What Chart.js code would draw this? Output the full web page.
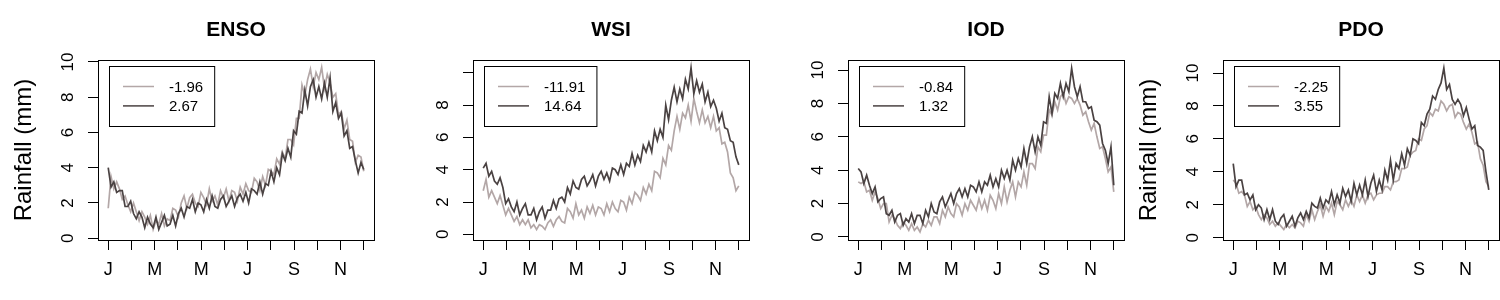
<!DOCTYPE html>
<html>
<head>
<meta charset="utf-8">
<title>Rainfall by climate index</title>
<script src="https://cdn.jsdelivr.net/npm/chart.js@4.4.1/dist/chart.umd.min.js"></script>
<style>
  body { margin: 0; background: #fff; }
  .panel { position: absolute; top: 0; width: 375px; height: 300px; }
</style>
</head>
<body>
<div class="panel" style="left:0px"><canvas id="enso-chart" width="375" height="300"></canvas></div>
<div class="panel" style="left:375px"><canvas id="wsi-chart" width="375" height="300"></canvas></div>
<div class="panel" style="left:750px"><canvas id="iod-chart" width="375" height="300"></canvas></div>
<div class="panel" style="left:1125px"><canvas id="pdo-chart" width="375" height="300"></canvas></div>
<script>
// ====
// Data
// ====

//  One value every 4 days, 1 Jan (day 1) to 31 Dec (day 365)
const dayStep = 4;

//  Axis ticks
//  ----------
const monthTickDays = [1, 34.09, 67.18, 100.27, 133.36, 166.45, 199.55, 232.64, 265.73, 298.82, 331.91, 365];
const monthTickLabels = ['J', '', 'M', '', 'M', '', 'J', '', 'S', '', 'N', ''];
const yTickValues = [0, 2, 4, 6, 8, 10];
const yTickLabels = [
  ['0', '2', '4', '6', '8', '10'],
  ['0', '2', '4', '6', '8', ''],
  ['0', '2', '4', '6', '8', '10'],
  ['0', '2', '4', '6', '8', '10'],
];
const yLimits = [[-0.1, 10.11], [-0.35, 10.79], [-0.18, 10.6], [-0.14, 10.79]];

//  Panels
//  ------
const panelTitles = ['ENSO', 'WSI', 'IOD', 'PDO'];
const legendLabels = [['-1.96', '2.67'], ['-11.91', '14.64'], ['-0.84', '1.32'], ['-2.25', '3.55']];
const showRainfallTitle = [true, false, false, true];

//  Rainfall (mm), low and high phase of each index
//  -----------------------------------------------
const ensoLow = [
  1.7, 3.5, 2.8, 3.2, 2.8, 2.2, 2.4, 1.9, 1.5, 2.0,
  1.5, 1.0, 1.5, 1.2, 0.8, 1.3, 0.5, 1.0, 0.8, 1.4,
  0.7, 1.1, 1.0, 1.7, 1.6, 1.2, 2.0, 2.4, 1.7, 2.3,
  2.5, 2.0, 1.8, 2.6, 2.3, 1.9, 2.8, 2.1, 2.4, 1.9,
  2.7, 2.3, 2.8, 2.1, 2.7, 2.6, 2.1, 2.9, 2.5, 3.1,
  2.7, 2.6, 3.4, 3.2, 2.7, 3.5, 3.0, 3.9, 3.8, 3.6,
  4.5, 4.2, 4.9, 4.5, 5.6, 5.6, 5.3, 6.8, 6.8, 8.7,
  8.1, 9.0, 9.6, 8.6, 9.4, 9.0, 9.7, 8.5, 9.3, 8.8,
  8.0, 8.2, 7.0, 7.2, 6.2, 6.7, 5.6, 5.5, 4.3, 4.7,
  4.6, 3.8,
];
const ensoHigh = [
  4.0, 2.9, 3.2, 2.6, 2.7, 2.7, 1.8, 1.8, 2.1, 1.4,
  1.1, 1.5, 1.2, 0.6, 1.2, 0.8, 0.6, 1.2, 0.5, 0.9,
  1.3, 0.7, 0.8, 1.3, 0.7, 1.4, 1.7, 1.2, 1.8, 1.7,
  2.2, 1.5, 2.0, 1.9, 1.5, 2.2, 1.7, 2.4, 1.8, 1.7,
  2.2, 2.4, 1.8, 2.1, 2.4, 1.8, 2.3, 2.5, 2.1, 2.6,
  2.0, 2.8, 2.7, 2.5, 3.2, 2.5, 3.1, 3.0, 3.8, 3.2,
  4.0, 3.6, 4.8, 4.4, 5.1, 4.6, 6.1, 5.9, 7.2, 7.1,
  8.4, 7.5, 8.6, 9.0, 8.0, 8.6, 7.9, 8.8, 8.0, 9.1,
  7.2, 7.7, 6.8, 7.1, 5.8, 6.1, 5.1, 5.2, 4.4, 3.7,
  4.3, 3.9,
];
const wsiLow = [
  2.7, 3.4, 2.3, 2.7, 2.3, 1.9, 2.4, 1.8, 1.2, 1.6,
  1.2, 0.8, 1.1, 0.6, 0.9, 0.6, 0.9, 0.4, 0.6, 0.3,
  0.6, 0.5, 0.3, 0.7, 0.9, 0.5, 0.9, 1.1, 0.8, 0.7,
  1.6, 1.4, 1.0, 1.9, 1.2, 1.5, 1.0, 1.7, 1.3, 1.8,
  1.2, 1.7, 1.6, 1.2, 1.9, 1.4, 2.0, 1.6, 1.4, 2.1,
  2.0, 1.5, 2.3, 1.9, 2.6, 2.4, 2.1, 2.9, 2.5, 3.1,
  2.7, 3.9, 3.8, 3.5, 4.7, 4.3, 5.5, 5.2, 6.4, 7.3,
  6.5, 7.5, 7.2, 8.0, 7.0, 8.4, 7.6, 6.9, 7.7, 6.9,
  7.3, 6.6, 7.3, 6.4, 6.6, 5.6, 5.7, 5.1, 3.8, 3.5,
  2.7, 3.0,
];
const wsiHigh = [
  4.1, 4.4, 3.6, 3.9, 3.3, 3.1, 3.5, 2.9, 1.9, 2.2,
  1.7, 1.4, 2.0, 1.2, 1.6, 1.9, 1.2, 1.2, 1.6, 0.9,
  1.4, 1.7, 1.0, 1.5, 1.5, 2.1, 1.6, 2.2, 2.3, 2.0,
  2.9, 2.5, 3.3, 2.9, 2.8, 3.4, 3.6, 3.0, 3.3, 3.7,
  3.0, 3.6, 3.9, 3.4, 3.8, 3.3, 4.1, 4.0, 3.7, 4.3,
  3.7, 4.4, 4.2, 5.0, 4.3, 4.9, 4.5, 5.5, 5.1, 5.7,
  5.1, 6.4, 5.8, 6.5, 6.0, 8.0, 7.1, 8.3, 9.1, 8.2,
  9.0, 8.4, 9.6, 9.0, 10.3, 8.7, 9.5, 8.8, 9.3, 8.2,
  8.8, 7.9, 8.3, 7.8, 7.0, 7.5, 6.6, 6.5, 5.8, 5.7,
  4.8, 4.3,
];
const iodLow = [
  3.3, 3.2, 3.3, 2.7, 2.8, 2.2, 2.7, 2.3, 1.7, 2.0,
  2.0, 0.9, 1.3, 1.1, 0.7, 0.5, 0.9, 0.7, 0.4, 0.8,
  0.4, 0.6, 0.3, 0.8, 0.6, 1.0, 0.7, 1.2, 1.2, 0.8,
  1.6, 1.2, 1.8, 1.4, 1.2, 2.0, 1.8, 1.3, 2.0, 1.6,
  2.2, 1.9, 1.6, 2.3, 1.7, 2.2, 1.6, 2.5, 2.2, 1.7,
  2.6, 2.0, 3.0, 2.1, 2.8, 3.3, 2.4, 3.3, 3.0, 3.9,
  3.1, 4.4, 4.4, 4.1, 5.4, 5.1, 6.1, 6.1, 7.6, 7.3,
  8.1, 7.6, 8.4, 8.6, 8.0, 8.4, 8.3, 8.0, 8.3, 7.9,
  7.3, 7.5, 6.9, 6.4, 6.8, 6.0, 5.3, 5.4, 4.7, 3.9,
  4.2, 2.7,
];
const iodHigh = [
  4.1, 3.9, 3.2, 3.7, 3.1, 2.6, 3.0, 2.1, 2.3, 2.4,
  1.4, 1.3, 1.6, 0.9, 1.3, 1.4, 0.7, 1.1, 0.9, 1.4,
  0.8, 1.3, 1.3, 0.8, 1.6, 1.2, 2.0, 1.5, 1.4, 2.1,
  2.4, 1.8, 2.2, 2.6, 2.0, 2.6, 2.9, 2.4, 2.9, 2.4,
  3.1, 3.0, 2.7, 3.3, 2.7, 3.3, 3.1, 3.7, 3.0, 3.5,
  3.0, 4.0, 3.5, 4.0, 3.4, 4.6, 4.0, 4.7, 4.2, 5.3,
  4.4, 5.4, 6.0, 5.1, 6.0, 5.5, 6.9, 6.8, 8.4, 7.4,
  8.6, 8.3, 9.2, 8.4, 9.2, 8.7, 10.1, 9.0, 8.4, 9.0,
  8.1, 8.1, 7.7, 7.8, 7.0, 6.9, 6.7, 5.6, 5.2, 4.4,
  5.4, 3.1,
];
const pdoLow = [
  3.5, 3.3, 2.7, 2.8, 2.6, 1.9, 2.2, 1.7, 1.9, 1.4,
  1.1, 1.4, 1.2, 0.8, 1.0, 0.7, 0.9, 0.7, 0.5, 0.8,
  0.6, 0.8, 0.6, 1.0, 0.9, 0.7, 1.4, 1.0, 1.7, 1.1,
  1.6, 2.0, 1.3, 1.9, 1.6, 2.1, 1.4, 2.2, 2.0, 1.7,
  2.3, 1.9, 2.3, 1.9, 2.6, 2.2, 2.6, 2.1, 2.6, 2.7,
  2.3, 2.6, 2.7, 2.7, 3.1, 3.1, 2.9, 3.4, 3.4, 3.5,
  4.2, 4.2, 4.3, 5.0, 5.2, 5.3, 6.0, 5.9, 6.6, 6.8,
  7.6, 7.4, 7.8, 7.7, 8.3, 8.1, 7.7, 8.0, 8.1, 7.3,
  7.6, 7.5, 7.0, 6.6, 6.9, 6.4, 5.7, 5.8, 4.8, 4.4,
  3.4, 3.1,
];
const pdoHigh = [
  4.5, 3.1, 3.5, 3.5, 2.6, 2.7, 2.3, 2.6, 1.7, 2.0,
  1.8, 1.1, 1.7, 1.1, 1.7, 1.0, 0.8, 1.2, 1.4, 0.7,
  1.0, 1.3, 0.7, 1.2, 1.5, 1.1, 1.6, 1.2, 2.1, 1.9,
  1.8, 2.4, 1.8, 2.3, 2.1, 2.8, 2.0, 2.6, 2.1, 3.0,
  2.5, 2.9, 2.2, 3.3, 2.6, 3.2, 2.6, 3.5, 2.5, 3.3,
  3.8, 2.8, 3.5, 2.9, 4.1, 3.5, 4.7, 3.5, 4.5, 4.2,
  5.1, 4.4, 5.4, 5.0, 6.0, 5.9, 5.7, 7.0, 6.8, 7.5,
  7.8, 8.6, 8.4, 9.0, 9.4, 10.3, 9.0, 9.3, 8.4, 8.1,
  8.4, 8.1, 7.4, 7.9, 7.2, 6.6, 6.8, 5.6, 5.5, 5.3,
  4.0, 2.9,
];

const lowColor = '#b3a7a7';
const highColor = '#4a4242';


// =======
// Plugins
// =======

//  Frame round the plot region
//  ---------------------------
const plotBox = {
  id: 'plotBox',
  afterDraw(chart) {
    const {ctx, chartArea: a} = chart;
    ctx.save();
    ctx.strokeStyle = '#000';
    ctx.lineWidth = 1;
    ctx.strokeRect(a.left + 0.5, a.top + 0.5, a.right - a.left, a.bottom - a.top);
    ctx.restore();
  },
};

//  Legend with a box round it, top left of the plot
//  ------------------------------------------------
const boxedLegend = {
  id: 'boxedLegend',
  afterDraw(chart) {
    const {ctx, chartArea: a} = chart;
    const sets = chart.data.datasets;
    const left = a.left + 11;
    const top = a.top + 6;

    ctx.save();
    ctx.font = '15px "Liberation Sans", Arial, sans-serif';
    const textW = Math.max(...sets.map(d => ctx.measureText(d.label).width));
    ctx.strokeStyle = '#000';
    ctx.lineWidth = 1;
    ctx.strokeRect(left + 0.5, top + 0.5, 60 + textW + 11, 60);

    sets.forEach((d, i) => {
      const y = top + 20.5 + i * 19.4;
      ctx.strokeStyle = d.borderColor;
      ctx.lineWidth = 1.5;
      ctx.beginPath();
      ctx.moveTo(left + 14, y);
      ctx.lineTo(left + 45, y);
      ctx.stroke();
      ctx.fillStyle = '#000';
      ctx.textBaseline = 'middle';
      ctx.fillText(d.label, left + 60, y + 1);
    });
    ctx.restore();
  },
};


// ======
// Charts
// ======
Chart.defaults.font.family = '"Liberation Sans", Arial, Helvetica, sans-serif';
Chart.defaults.color = '#000';

const toPoints = (values) => values.map((v, i) => ({x: 1 + i * dayStep, y: v}));

const makeRainfallChart = (canvasId, i, low, high) => {
  const labels = yTickLabels[i];
  const longest = Math.max(...labels.map(s => s.length));

  return new Chart(document.getElementById(canvasId), {
    type: 'line',
    data: {
      datasets: [
        {
          label: legendLabels[i][0],
          data: toPoints(low),
          borderColor: lowColor,
          borderWidth: 1.7,
          order: 1,
        },
        {
          label: legendLabels[i][1],
          data: toPoints(high),
          borderColor: highColor,
          borderWidth: 1.7,
          order: 0,
        },
      ],
    },
    options: {
      responsive: false,
      devicePixelRatio: 1,
      animation: false,
      events: [],
      layout: {padding: {left: 0, right: 1, top: 0, bottom: 0}},
      elements: {
        point: {radius: 0},
        line: {tension: 0},
      },
      datasets: {line: {xAxisID: 'x', yAxisID: 'y'}},
      scales: {
        x: {
          type: 'linear',
          position: 'bottom',
          min: 1 - 14.56,
          max: 365 + 14.56,
          afterBuildTicks: (scale) => {
            scale.ticks = monthTickDays.map(v => ({value: v}));
          },
          afterFit: (scale) => { scale.height = 60; },
          ticks: {
            autoSkip: false,
            minRotation: 0,
            maxRotation: 0,
            padding: 9,
            font: {size: 18},
            callback: (value, index) => monthTickLabels[index],
          },
          grid: {drawOnChartArea: false, tickLength: 10, color: '#000'},
          border: {color: '#000'},
        },
        top: {
          axis: 'x',
          type: 'linear',
          position: 'top',
          min: 0,
          max: 1,
          afterFit: (scale) => { scale.height = 60; },
          ticks: {display: false},
          grid: {display: false},
          border: {display: false},
          title: {
            display: true,
            text: panelTitles[i],
            font: {size: 21, weight: 'bold'},
            padding: {top: 17.4, bottom: 0},
          },
        },
        y: {
          type: 'linear',
          position: 'left',
          min: yLimits[i][0],
          max: yLimits[i][1],
          afterBuildTicks: (scale) => {
            scale.ticks = yTickValues.map(v => ({value: v}));
          },
          afterFit: (scale) => { scale.width = 98; },
          ticks: {
            autoSkip: false,
            minRotation: 90,
            maxRotation: 90,
            crossAlign: 'center',
            padding: 20 - longest * 4.73,
            font: {size: 17},
            callback: (value, index) => labels[index],
          },
          grid: {drawOnChartArea: false, tickLength: 10, color: '#000'},
          border: {color: '#000'},
          title: {
            display: showRainfallTitle[i],
            text: 'Rainfall (mm)',
            font: {size: 24},
            padding: {top: 10.2, bottom: 0},
          },
        },
      },
      plugins: {
        legend: {display: false},
        title: {display: false},
        tooltip: {enabled: false},
      },
    },
    plugins: [plotBox, boxedLegend],
  });
};

const ensoChart = makeRainfallChart('enso-chart', 0, ensoLow, ensoHigh);
const wsiChart = makeRainfallChart('wsi-chart', 1, wsiLow, wsiHigh);
const iodChart = makeRainfallChart('iod-chart', 2, iodLow, iodHigh);
const pdoChart = makeRainfallChart('pdo-chart', 3, pdoLow, pdoHigh);
</script>
</body>
</html>
